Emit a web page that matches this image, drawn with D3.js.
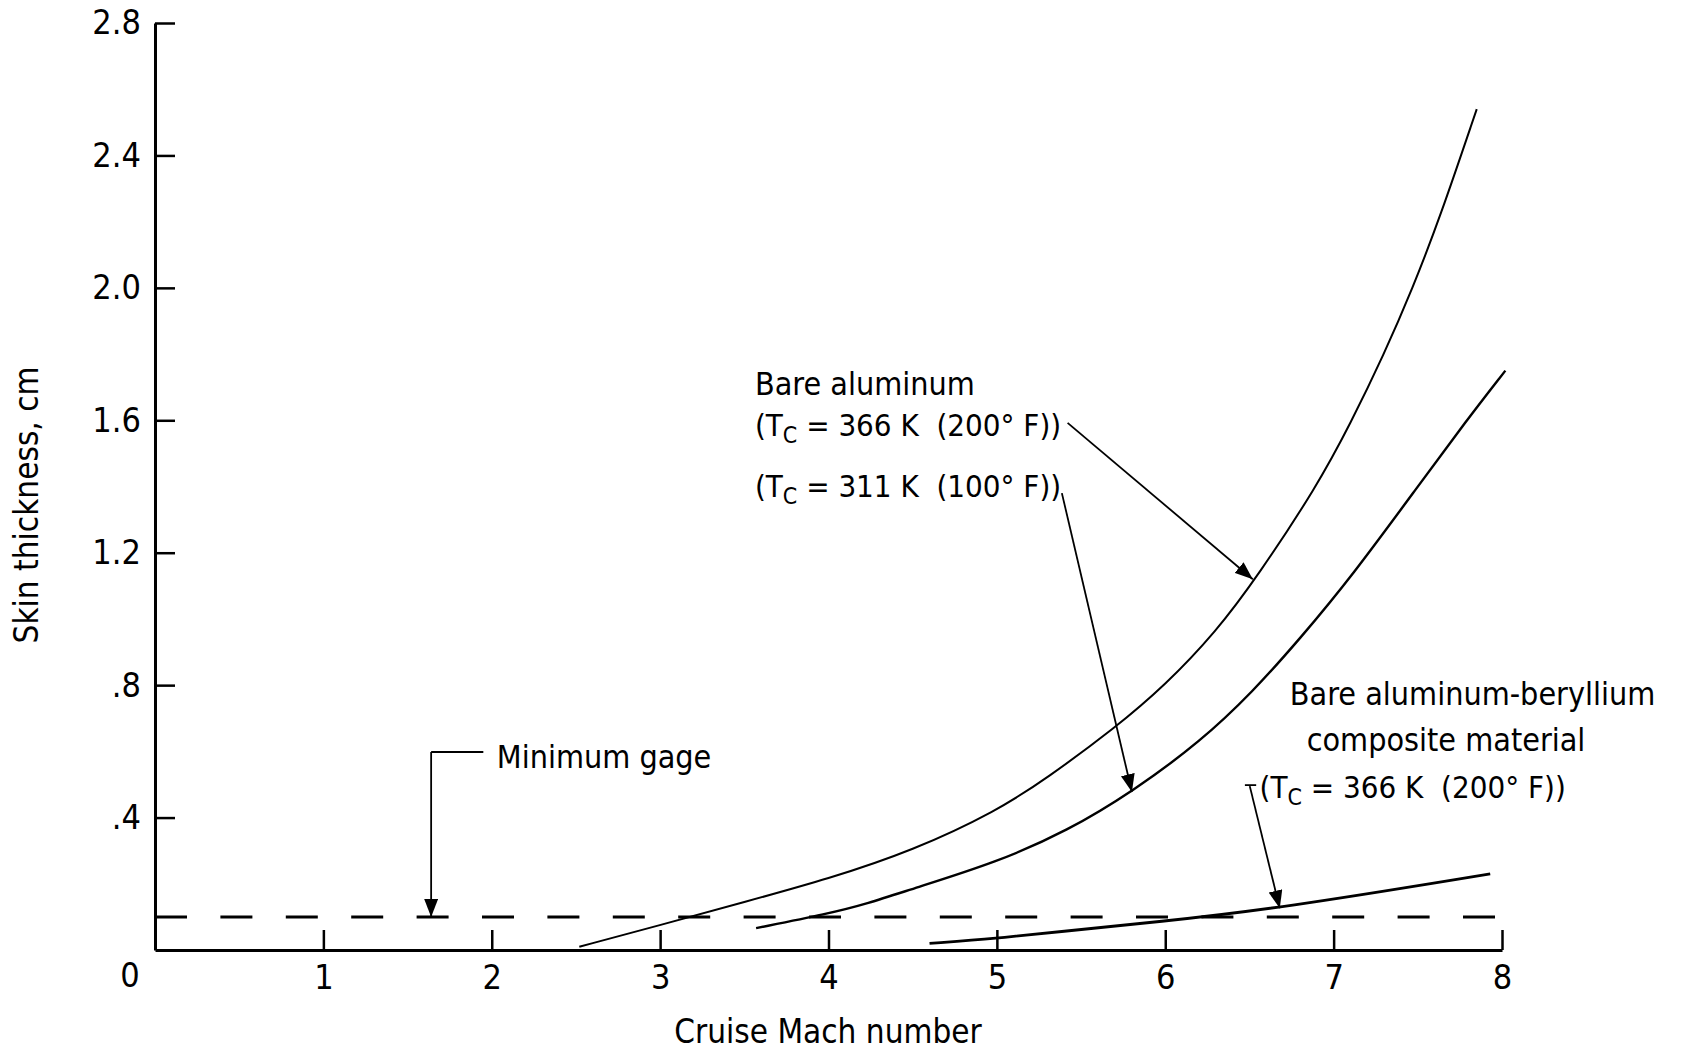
<!DOCTYPE html>
<html>
<head>
<meta charset="utf-8">
<script src="https://cdn.jsdelivr.net/npm/d3@7"></script>
<style>
  body { margin: 0; background: #fff; }
  svg { display: block; }
  text { font-family: "DejaVu Sans Condensed", "DejaVu Sans", sans-serif; fill: #000; }
</style>
</head>
<body>
<div id="chart"></div>
<script>
// skin thickness (cm) against cruise Mach number
const bareAl366 = [[2.52, 0.01], [3.0, 0.075], [3.5, 0.145], [4.0, 0.215], [4.5, 0.3], [5.0, 0.42], [5.3, 0.52], [5.7, 0.67], [6.0, 0.8], [6.3, 0.96], [6.55, 1.13], [6.9, 1.4], [7.1, 1.59], [7.3, 1.8], [7.47, 2.0], [7.63, 2.21], [7.85, 2.54]];
const bareAl311 = [[3.57, 0.066], [4.0, 0.11], [4.23, 0.14], [4.5, 0.185], [5.0, 0.265], [5.42, 0.36], [5.81, 0.48], [6.21, 0.63], [6.52, 0.78], [6.8, 0.94], [7.11, 1.13], [7.5, 1.4], [7.79, 1.6], [8.02, 1.75]];
const alBe366 = [[4.6, 0.02], [5.0, 0.035], [5.36, 0.055], [5.96, 0.085], [6.68, 0.126], [7.93, 0.23]];
const minimumGage = 0.1;
const gageExtent = [0, 7.96];
const xTicks = [1, 2, 3, 4, 5, 6, 7, 8];
const yTicks = [0.4, 0.8, 1.2, 1.6, 2.0, 2.4, 2.8];

const width = 1683;
const height = 1054;

const x = d3.scaleLinear().domain([0, 8]).range([155, 1502]);
const y = d3.scaleLinear().domain([0, 2.8]).range([950, 23]);

const svg = d3
  .create("svg")
  .attr("width", width)
  .attr("height", height)
  .attr("viewBox", [0, 0, width, height]);

svg
  .append("defs")
  .append("marker")
  .attr("id", "arrow")
  .attr("viewBox", "0 0 18 14")
  .attr("refX", 18)
  .attr("refY", 7)
  .attr("markerWidth", 18)
  .attr("markerHeight", 14)
  .attr("markerUnits", "userSpaceOnUse")
  .attr("orient", "auto")
  .append("path")
  .attr("d", "M0,0L18,7L0,14Z")
  .attr("fill", "black");

const yFormat = (d) => d3.format(".1f")(d).replace(/^0/, "");

// y axis, ticks pointing into the plot
svg
  .append("g")
  .attr("transform", `translate(${x(0)},0)`)
  .call(
    d3
      .axisLeft(y)
      .tickValues(yTicks)
      .tickFormat(yFormat)
      .tickSize(-20)
      .tickSizeOuter(0)
      .tickPadding(14)
  )
  .call((g) => g.select(".domain").attr("stroke-width", 3))
  .call((g) => g.selectAll(".tick line").attr("stroke-width", 2.5))
  .call((g) =>
    g
      .selectAll(".tick text")
      .attr("font-size", 34)
      .attr("font-family", '"DejaVu Sans Condensed", "DejaVu Sans", sans-serif')
  );

// x axis
svg
  .append("g")
  .attr("transform", `translate(0,${y(0)})`)
  .call(
    d3
      .axisBottom(x)
      .tickValues(xTicks)
      .tickFormat(d3.format("d"))
      .tickSize(-20)
      .tickSizeOuter(0)
      .tickPadding(15)
  )
  .call((g) => g.select(".domain").attr("stroke-width", 3))
  .call((g) => g.selectAll(".tick line").attr("stroke-width", 2.5))
  .call((g) =>
    g
      .selectAll(".tick text")
      .attr("font-size", 34)
      .attr("font-family", '"DejaVu Sans Condensed", "DejaVu Sans", sans-serif')
  );

// shared zero at the corner
svg
  .append("text")
  .attr("x", x(0) - 25)
  .attr("y", y(0) + 37)
  .attr("text-anchor", "middle")
  .attr("font-size", 34)
  .text("0");

// axis titles
svg
  .append("text")
  .attr("x", 828)
  .attr("y", 1043)
  .attr("text-anchor", "middle")
  .attr("font-size", 33)
  .text("Cruise Mach number");

svg
  .append("text")
  .attr("transform", "translate(38,505) rotate(-90)")
  .attr("text-anchor", "middle")
  .attr("font-size", 33)
  .text("Skin thickness, cm");

// minimum gage dashed line
svg
  .append("line")
  .attr("x1", x(gageExtent[0]))
  .attr("x2", x(gageExtent[1]))
  .attr("y1", y(minimumGage))
  .attr("y2", y(minimumGage))
  .attr("stroke", "black")
  .attr("stroke-width", 3)
  .attr("stroke-dasharray", "32,33.4");

// curves
const line = d3
  .line()
  .x((d) => x(d[0]))
  .y((d) => y(d[1]))
  .curve(d3.curveBasis);

const curves = [
  { name: "366 K bare aluminum", values: bareAl366, width: 2 },
  { name: "311 K bare aluminum", values: bareAl311, width: 2.4 },
  { name: "366 K aluminum-beryllium", values: alBe366, width: 2.8 },
];

svg
  .append("g")
  .selectAll("path")
  .data(curves)
  .join("path")
  .attr("fill", "none")
  .attr("stroke", "black")
  .attr("stroke-width", (d) => d.width)
  .attr("d", (d) => line(d.values));

// annotations
const notes = svg.append("g").attr("font-size", 32);

function leader(points) {
  notes
    .append("path")
    .attr("d", d3.line()(points.map(([a, b]) => [x(a), y(b)])))
    .attr("fill", "none")
    .attr("stroke", "black")
    .attr("stroke-width", 1.8)
    .attr("marker-end", "url(#arrow)");
}

function tcLabel(mx, my, kelvin, fahr) {
  const t = notes
    .append("text")
    .attr("x", x(mx))
    .attr("y", y(my))
    .attr("font-size", 31)
    .style("white-space", "pre");
  t.append("tspan").text("(T");
  t.append("tspan").attr("font-size", 23).attr("dy", 7).text("C");
  t.append("tspan").attr("dy", -7).text(` = ${kelvin} K  (${fahr}° F))`);
}

// minimum gage
notes
  .append("text")
  .attr("x", x(2.03))
  .attr("y", y(0.55))
  .text("Minimum gage");
notes
  .append("line")
  .attr("x1", x(1.95))
  .attr("x2", x(1.64))
  .attr("y1", y(0.598))
  .attr("y2", y(0.598))
  .attr("stroke", "black")
  .attr("stroke-width", 1.8);
leader([
  [1.64, 0.598],
  [1.64, minimumGage],
]);

// bare aluminum
notes.append("text").attr("x", x(3.563)).attr("y", y(1.676)).text("Bare aluminum");
tcLabel(3.563, 1.553, 366, 200);
tcLabel(3.563, 1.368, 311, 100);
leader([
  [5.42, 1.592],
  [6.52, 1.12],
]);
leader([
  [5.386, 1.38],
  [5.802, 0.477],
]);

// aluminum-beryllium
notes.append("text").attr("x", x(6.74)).attr("y", y(0.74)).text("Bare aluminum-beryllium");
notes.append("text").attr("x", x(6.84)).attr("y", y(0.601)).text("composite material");
tcLabel(6.56, 0.459, 366, 200);
notes
  .append("line")
  .attr("x1", x(6.473))
  .attr("x2", x(6.54))
  .attr("y1", y(0.498))
  .attr("y2", y(0.498))
  .attr("stroke", "black")
  .attr("stroke-width", 1.8);
leader([
  [6.502, 0.495],
  [6.68, 0.126],
]);

document.getElementById("chart").append(svg.node());
</script>
</body>
</html>
